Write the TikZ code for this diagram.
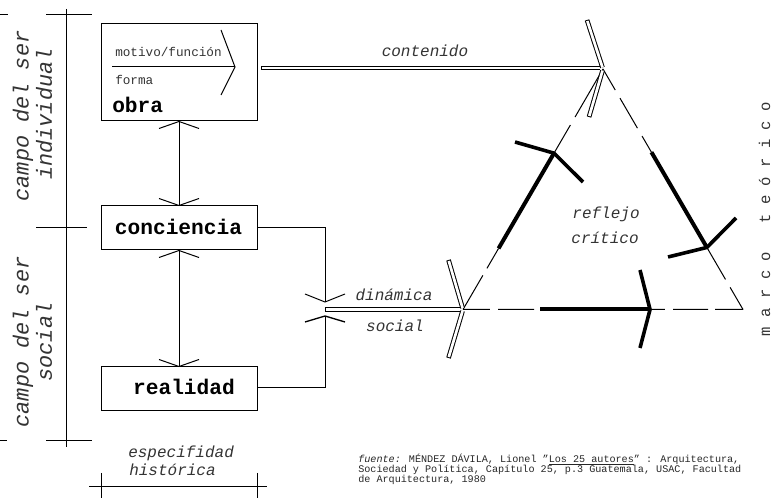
\documentclass[tikz,border=0pt]{standalone}
\usepackage{fontspec}
\setmainfont{Liberation Mono}
\usetikzlibrary{calc}
\newcommand{\fsz}[1]{\fontsize{#1}{#1}\selectfont}
\newcommand{\hollow}[4]{% from, to, outer width, shorten at tip
  \draw[line width=#3pt,shorten >=#4pt] (#1) -- (#2);
  \draw[white,line width=\dimexpr#3pt-1.5pt\relax,shorten <=0.75pt,shorten >=#4pt] (#1) -- (#2);}
\tikzset{
  x=0.75pt,y=-0.75pt,
  box/.style={draw,line width=0.75pt,minimum width=117pt,inner sep=0pt},
  title/.style={font=\fsz{15.9}\bfseries,inner sep=0pt},
  side/.style={font=\fsz{16.4}\itshape,rotate=90,inner sep=0pt,text=black!80},
  lab/.style={font=\fsz{12}\itshape,inner sep=0pt,text=black!80},
  small/.style={font=\fsz{9.5},inner sep=0pt,text=black!80},
  ln/.style={line width=0.75pt},
  thinl/.style={line width=0.75pt},
  thickl/.style={line width=3pt},
  thickw/.style={line width=2.7pt,line join=miter},
}
\begin{document}
\begin{tikzpicture}
\useasboundingbox (0,0) rectangle (771,498);
% frame ticks
\coordinate (ftop) at (66,9);
\coordinate (fbot) at (66,447);
\draw[ln] (ftop) -- (fbot);
\coordinate (t1) at (0,15); \coordinate (t2) at (8,15); \coordinate (t3) at (46,15); \coordinate (t4) at (92,15);
\draw[ln] (t1) -- (t2) (t3) -- (t4);
\coordinate (m1) at (36,228); \coordinate (m2) at (87,228);
\draw[ln] (m1) -- (m2);
\coordinate (b1) at (0,441); \coordinate (b2) at (7,441); \coordinate (b3) at (46,441); \coordinate (b4) at (92,441);
\draw[ln] (b1) -- (b2) (b3) -- (b4);
\coordinate (h1) at (89,487); \coordinate (h2) at (267,487);
\draw[ln] (h1) -- (h2);
\coordinate (v1a) at (101,473); \coordinate (v1b) at (101,498);
\coordinate (v2a) at (257,473); \coordinate (v2b) at (257,498);
\draw[ln] (v1a) -- (v1b) (v2a) -- (v2b);
% side labels
\node[side] (cs1) at (23,116) {campo del ser};
\node[side] (ind) at (44,114) {individual};
\node[side] (cs2) at (23,342) {campo del ser};
\node[side] (soc) at (44,342) {social};
% boxes
\node[box,minimum height=72.75pt] (obra) at (179,72.5) {};
\node[box,minimum height=33pt] (conc) at (179,228) {};
\node[box,minimum height=33pt] (real) at (179,389) {};
\node[title] (tconc) at (178.5,226.5) {conciencia};
\node[title] (treal) at (184,386.5) {realidad};
\node[title,anchor=west] (tobra) at (112,104.5) {obra};
\node[small,anchor=west] (tmot) at (115,51.5) {motivo/función};
\node[small,anchor=west] (tfor) at (115,80) {forma};
% inner arrow
\coordinate (ia) at (112,67); \coordinate (ib) at (235,67);
\draw[ln] (ia) -- (ib);
\draw[ln] (221,30) -- (ib) -- (221,95);
% vertical links
\draw[ln] (obra.south) -- (conc.north);
\draw[ln] ($(obra.south)+(-20,7)$) -- (obra.south) -- ($(obra.south)+(20,7)$);
\draw[ln] ($(conc.north)+(-20,-7)$) -- (conc.north) -- ($(conc.north)+(20,-7)$);
\draw[ln] (conc.south) -- (real.north);
\draw[ln] ($(conc.south)+(-20,7)$) -- (conc.south) -- ($(conc.south)+(20,7)$);
\draw[ln] ($(real.north)+(-20,-7)$) -- (real.north) -- ($(real.north)+(20,-7)$);
% links to dinamica
\coordinate (tipu) at (325,302); \coordinate (tipd) at (325,316);
\draw[ln] (conc.east) -| (tipu);
\draw[ln] ($(real.east)+(0,-1)$) -| (tipd);
\draw[ln] ($(tipu)+(-20,-8)$) -- (tipu) -- ($(tipu)+(20,-8)$);
\draw[line width=1pt] ($(tipd)+(-20,6)$) -- (tipd) -- ($(tipd)+(20,6)$);
% triangle vertices
\coordinate (A) at (463,309.5);
\coordinate (B) at (603,69);
\coordinate (C) at (743,309.5);
% triangle AB
\draw[thinl] (A) -- ($(A)!.142!(B)$) ($(A)!.171!(B)$) -- ($(A)!.254!(B)$)
  ($(A)!.65!(B)$) -- ($(A)!.767!(B)$) ($(A)!.8!(B)$) -- (B);
\draw[thickl] ($(A)!.254!(B)$) -- ($(A)!.65!(B)$);
\coordinate (tAB) at ($(A)!.65!(B)$);
\draw[thickw] (515,142) -- (tAB) -- (583,182);
% triangle BC
\draw[thinl] (B) -- ($(B)!.0875!(C)$) ($(B)!.121!(C)$) -- ($(B)!.246!(C)$)
  ($(B)!.279!(C)$) -- ($(B)!.346!(C)$) ($(B)!.742!(C)$) -- ($(B)!.875!(C)$)
  ($(B)!.908!(C)$) -- (C);
\draw[thickl] ($(B)!.346!(C)$) -- ($(B)!.742!(C)$);
\coordinate (tBC) at ($(B)!.742!(C)$);
\draw[thickw] (736,218) -- (tBC) -- (668,257);
% triangle AC
\draw[thinl] (A) -- ($(A)!.096!(C)$) ($(A)!.125!(C)$) -- ($(A)!.254!(C)$)
  ($(A)!.668!(C)$) -- ($(A)!.721!(C)$) ($(A)!.75!(C)$) -- ($(A)!.875!(C)$)
  ($(A)!.9!(C)$) -- (C);
\draw[thickl] ($(A)!.275!(C)$) -- ($(A)!.668!(C)$);
\coordinate (tAC) at ($(A)!.668!(C)$);
\draw[thickw] (640,270) -- (tAC) -- (640,348);
% double arrows
\coordinate (ds) at (325,309.5);
\coordinate (cs) at (261,68);
\coordinate (Bs) at (600,68);
\coordinate (As) at (460,309.5);
\hollow{ds}{As}{3.2}{0}
\hollow{cs}{Bs}{3.2}{0}
\coordinate (w1) at (448.5,260); \coordinate (w2) at (448.5,358);
\coordinate (w3) at (587,20); \coordinate (w4) at (589,117);
\hollow{w1}{A}{3.5}{1.2}
\hollow{w2}{A}{3.5}{1.2}
\hollow{w3}{B}{3.5}{1.2}
\hollow{w4}{B}{3.5}{1.2}
% labels
\node[lab] (lcont) at (425,51) {contenido};
\node[lab] (ldin) at (394,295) {dinámica};
\node[lab] (lsoc) at (395,326) {social};
\node[lab] (lref) at (606,214) {reflejo};
\node[lab] (lcri) at (605,238) {crítico};
\node[lab,anchor=west] (lesp) at (128,453) {especifidad};
\node[lab,anchor=west] (lhis) at (129,470) {histórica};
\node[font=\fsz{11.7},rotate=90,anchor=base,inner sep=0pt,text=black!80] (lmar) at (770,219) {m a r c o~~~t e ó r i c o};
\node[font=\fsz{7.6},anchor=north west,inner sep=0pt,align=left,text=black!85] (fte) at (358,453.5)
 {\fontsize{7.6}{7.9}\selectfont\textit{fuente:} MÉNDEZ DÁVILA, Lionel "\underline{Los 25 autores}" : Arquitectura,\\
  Sociedad y Política, Capítulo 25, p.3 Guatemala, USAC, Facultad\\
  de Arquitectura, 1980};
\end{tikzpicture}
\end{document}
